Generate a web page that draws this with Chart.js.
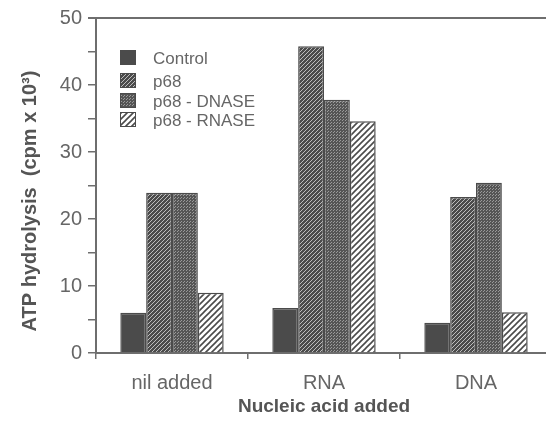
<!DOCTYPE html>
<html>
<head>
<meta charset="utf-8">
<script src="https://cdn.jsdelivr.net/npm/chart.js@4.4.0/dist/chart.umd.min.js"></script>
<style>
  html, body { margin: 0; padding: 0; background: #fff; overflow: hidden; }
  #wrap { width: 552px; height: 424px; }
</style>
</head>
<body>
<div id="wrap"><canvas id="atpChart"></canvas></div>
<script>
// values (cpm x 10^3)
const categories = ['nil added', 'RNA', 'DNA'];
const seriesNames = ['Control', 'p68', 'p68 - DNASE', 'p68 - RNASE'];
const control = [6.0, 6.7, 4.5];
const p68 = [23.9, 45.8, 23.3];
const p68Dnase = [23.9, 37.8, 25.4];
const p68Rnase = [9.0, 34.6, 6.1];
const yTicks = [0, 10, 20, 30, 40, 50];
const yTitle = 'ATP hydrolysis  (cpm x 10³)';

const dark = '#4b4b4b';
const axisGray = '#6e6e6e';
const textGray = '#666';
const fontFamily = '"Liberation Sans", Arial, sans-serif';

// fill patterns for the bars
function makePattern(kind) {
    const c = document.createElement('canvas');
    const s = kind === 'dots' ? 3 : (kind === 'hatchLight' ? 4 : 6);
    c.width = s; c.height = s;
    const g = c.getContext('2d');
    if (kind === 'solid') {
        g.fillStyle = dark; g.fillRect(0, 0, s, s);
    } else if (kind === 'hatchLight') {
        g.fillStyle = dark; g.fillRect(0, 0, s, s);
        g.strokeStyle = '#bdbdbd'; g.lineWidth = 1;
        g.beginPath();
        g.moveTo(0, s); g.lineTo(s, 0);
        g.moveTo(-1, 1); g.lineTo(1, -1);
        g.moveTo(s - 1, s + 1); g.lineTo(s + 1, s - 1);
        g.stroke();
    } else if (kind === 'dots') {
        g.fillStyle = '#555'; g.fillRect(0, 0, s, s);
        g.fillStyle = '#9a9a9a'; g.fillRect(0, 0, 1, 1);
        g.fillRect(1, 2, 1, 1);
    } else {
        g.fillStyle = '#fff'; g.fillRect(0, 0, s, s);
        g.strokeStyle = dark; g.lineWidth = 1.6;
        g.beginPath();
        g.moveTo(0, s); g.lineTo(s, 0);
        g.moveTo(-2, 2); g.lineTo(2, -2);
        g.moveTo(s - 2, s + 2); g.lineTo(s + 2, s - 2);
        g.stroke();
    }
    return g.createPattern(c, 'repeat');
}

const fills = [makePattern('solid'), makePattern('hatchLight'), makePattern('dots'), makePattern('hatchDark')];
const seriesValues = [control, p68, p68Dnase, p68Rnase];

// legend drawn inside the plot, top left, plus the rotated y title
const insideLegend = {
    id: 'insideLegend',
    afterDraw(chart) {
        const ctx = chart.ctx;
        const rows = [58, 81, 101, 120];
        ctx.save();
        ctx.font = '17px ' + fontFamily;
        ctx.textBaseline = 'middle';
        chart.data.datasets.forEach((ds, i) => {
            const y = rows[i];
            ctx.fillStyle = ds.backgroundColor;
            ctx.fillRect(120, y - 8, 16, 15);
            ctx.strokeStyle = dark; ctx.lineWidth = 1;
            ctx.strokeRect(120.5, y - 7.5, 15, 14);
            ctx.fillStyle = textGray;
            ctx.fillText(ds.label, 153, y + 1);
        });
        ctx.translate(30, 201);
        ctx.rotate(-Math.PI / 2);
        ctx.font = 'bold 20px ' + fontFamily;
        ctx.textAlign = 'center';
        ctx.fillStyle = '#555';
        ctx.fillText(yTitle, 0, 0);
        ctx.restore();
    }
};

const ctxAtp = document.getElementById('atpChart').getContext('2d');
const atpChart = new Chart(ctxAtp, {
    type: 'bar',
    data: {
        labels: categories,
        datasets: seriesNames.map((name, i) => ({
            label: name,
            data: seriesValues[i],
            backgroundColor: fills[i],
            borderColor: dark,
            borderWidth: 1.5,
            categoryPercentage: 0.68,
            barPercentage: 1.0
        }))
    },
    options: {
        responsive: true,
        maintainAspectRatio: false,
        animation: false,
        layout: { padding: { top: 16, right: 0, bottom: 0, left: 0 } },
        plugins: { legend: { display: false }, tooltip: { enabled: false } },
        scales: {
            x: {
                afterFit: s => { s.height = 71; },
                grid: { offset: true, drawOnChartArea: false, color: axisGray, tickLength: 6, lineWidth: 1.5 },
                border: { color: axisGray, width: 2 },
                ticks: { color: textGray, padding: 12, font: { family: fontFamily, size: 20 } },
                title: {
                    display: true,
                    text: 'Nucleic acid added',
                    color: '#555',
                    padding: { top: 4, bottom: 6 },
                    font: { family: fontFamily, size: 19, weight: 'bold' }
                }
            },
            y: {
                min: 0,
                max: 50,
                afterFit: s => { s.width = 96; },
                afterBuildTicks: s => { s.ticks = []; for (let v = 0; v <= 50; v += 5) s.ticks.push({ value: v }); },
                grid: {
                    drawOnChartArea: true,
                    color: c => c.tick && c.tick.value === 50 ? axisGray : 'rgba(0,0,0,0)',
                    tickColor: axisGray,
                    tickLength: 8,
                    lineWidth: c => c.tick && c.tick.value === 50 ? 2 : 1.5
                },
                border: { color: axisGray, width: 2 },
                ticks: {
                    color: textGray,
                    padding: 6,
                    font: { family: fontFamily, size: 20 },
                    callback: v => yTicks.includes(v) ? v : ''
                },
                title: { display: false }
            }
        }
    },
    plugins: [insideLegend]
});
</script>
</body>
</html>
